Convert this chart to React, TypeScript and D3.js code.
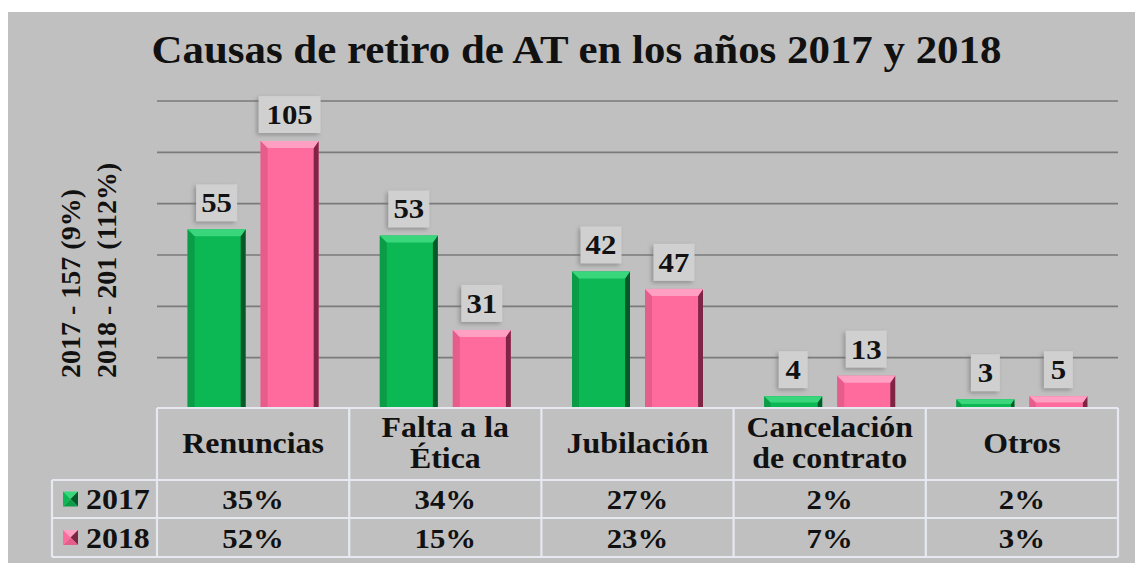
import React from "react";
import * as d3 from "d3";

const categoryLines: string[][] = [
  ["Renuncias"],
  ["Falta a la", "Ética"],
  ["Jubilación"],
  ["Cancelación", "de contrato"],
  ["Otros"],
];
const seriesNames = ["2017", "2018"];
const counts2017 = [55, 53, 42, 4, 3];
const counts2018 = [105, 31, 47, 13, 5];
// bar heights are drawn as share of the year's total (%)
const share2017 = [35.0, 33.8, 26.8, 2.5, 1.9];
const share2018 = [52.2, 15.4, 23.4, 6.5, 2.5];
const pctLabels2017 = ["35%", "34%", "27%", "2%", "2%"];
const pctLabels2018 = ["52%", "15%", "23%", "7%", "3%"];
const yTicks = [10, 20, 30, 40, 50, 60];
const title = "Causas de retiro de AT en los años 2017 y 2018";
const yLabelLines = ["2017 - 157 (9%)", "2018 - 201 (112%)"];

const W = 1135;
const H = 563;
const FONT = "'Liberation Serif', 'Times New Roman', serif";

const palettes = [
  { base: "#0bb854", top: "#3ad67c", right: "#04592a", left: "#0a9c47" },
  { base: "#ff6b9c", top: "#ff9fc2", right: "#7e2444", left: "#e65c8b" },
];

const labelBoxWidths = [29, 41, 62];

function Bar({ x, y, w, h, p }: any) {
  const b = Math.min(7, h / 2);
  const x1 = x + w;
  const yb = y + h;
  return (
    <g>
      <rect x={x} y={y} width={w} height={h} fill={p.base} />
      <polygon points={`${x},${y} ${x + b},${y + b} ${x + b},${yb} ${x},${yb}`} fill={p.left} />
      <polygon points={`${x1},${y} ${x1},${yb} ${x1 - b * 0.7},${yb} ${x1 - b * 0.7},${y + b}`} fill={p.right} />
      <polygon points={`${x},${y} ${x1},${y} ${x1 - b * 0.7},${y + b} ${x + b},${y + b}`} fill={p.top} />
    </g>
  );
}

function Marker({ x, y, s, p }: any) {
  const cx = x + s / 2;
  const cy = y + s / 2;
  return (
    <g>
      <polygon points={`${x},${y} ${x + s},${y} ${cx},${cy}`} fill={p.top} />
      <polygon points={`${x + s},${y} ${x + s},${y + s} ${cx},${cy}`} fill={p.right} />
      <polygon points={`${x},${y + s} ${x + s},${y + s} ${cx},${cy}`} fill={p.left} />
      <polygon points={`${x},${y} ${x},${y + s} ${cx},${cy}`} fill={p.base} />
    </g>
  );
}

export default function App() {
  const tableLeft = 157;
  const tableRight = 1118;
  const legendLeft = 52;
  const headerTop = 408;
  const row1Top = 480;
  const row2Top = 518;
  const tableBottom = 557;

  const x0 = d3
    .scaleBand<number>()
    .domain(d3.range(categoryLines.length))
    .range([tableLeft, tableRight]);
  const bw = x0.bandwidth();
  const y = d3.scaleLinear().domain([0, 60]).range([409, 101]);

  const shares = [share2017, share2018];
  const counts = [counts2017, counts2018];
  const pctLabels = [pctLabels2017, pctLabels2018];

  const textStyle = { fontFamily: FONT, fontWeight: "bold" as const, fill: "#111" };
  const sx = 1.1;
  const stroke = "#e6e9f0";

  return (
    <svg width={W} height={H} style={{ position: "absolute", left: 0, top: 0, background: "#fff" }}>
      <defs>
        <filter id="lblShadow" x="-30%" y="-30%" width="160%" height="160%">
          <feDropShadow dx={-2} dy={2} stdDeviation={2} floodColor="#6a6a6a" floodOpacity={0.55} />
        </filter>
      </defs>
      <rect x={8} y={12} width={W - 8} height={H - 12} fill="#c0c0c0" />

      {/* title */}
      <text
        transform={`translate(${(153 + 1000) / 2},63) scale(1.1,1)`}
        textAnchor="middle"
        fontSize={39}
        {...textStyle}
      >
        {title}
      </text>

      {/* y label */}
      {yLabelLines.map((t, i) => (
        <text
          key={t}
          transform={`translate(${80 + i * 36},378) rotate(-90)`}
          textAnchor="start"
          fontSize={28}
          {...textStyle}
        >
          {t}
        </text>
      ))}

      {/* gridlines */}
      {yTicks.map((t) => (
        <line key={t} x1={tableLeft} x2={tableRight} y1={y(t)} y2={y(t)} stroke="#7a7a7a" strokeWidth={1.6} />
      ))}

      {/* bars */}
      {categoryLines.map((_, ci) => {
        const cx = (x0(ci) as number) + bw / 2;
        const x1 = d3
          .scaleBand<string>()
          .domain(seriesNames)
          .range([cx - 65.5, cx + 65.5])
          .paddingInner(0.2055);
        return seriesNames.map((s, si) => {
          const v = shares[si][ci];
          const bx = x1(s) as number;
          const w = x1.bandwidth();
          const top = y(v);
          const h = y(0) - top;
          const label = String(counts[si][ci]);
          const lw = labelBoxWidths[label.length - 1];
          const lh = 37;
          const ly = top - 8 - lh;
          const lcx = bx + w / 2;
          return (
            <g key={`${ci}-${si}`}>
              <Bar x={bx} y={top} w={w} h={h} p={palettes[si]} />
              <rect x={lcx - lw / 2} y={ly} width={lw} height={lh} fill="#d0d0d0" filter="url(#lblShadow)" />
              <text
                transform={`translate(${lcx},${ly + lh - 9}) scale(${sx},1)`}
                textAnchor="middle"
                fontSize={28}
                {...textStyle}
              >
                {label}
              </text>
            </g>
          );
        });
      })}

      {/* table background to cover bar bottoms */}
      <rect x={tableLeft} y={headerTop} width={tableRight - tableLeft} height={tableBottom - headerTop} fill="#c0c0c0" />
      <rect x={legendLeft} y={row1Top} width={tableLeft - legendLeft} height={tableBottom - row1Top} fill="#c0c0c0" />

      {/* table lines */}
      <g stroke={stroke} strokeWidth={2.2}>
        <line x1={tableLeft} x2={tableRight} y1={headerTop} y2={headerTop} />
        <line x1={legendLeft} x2={tableRight} y1={row1Top} y2={row1Top} />
        <line x1={legendLeft} x2={tableRight} y1={row2Top} y2={row2Top} />
        <line x1={legendLeft} x2={tableRight} y1={tableBottom} y2={tableBottom} />
        <line x1={legendLeft} x2={legendLeft} y1={row1Top} y2={tableBottom} />
        {categoryLines.map((_, ci) => (
          <line key={ci} x1={x0(ci)} x2={x0(ci)} y1={headerTop} y2={tableBottom} />
        ))}
        <line x1={tableRight} x2={tableRight} y1={headerTop} y2={tableBottom} />
      </g>

      {/* headers */}
      {categoryLines.map((lines, ci) => {
        const cx = (x0(ci) as number) + bw / 2;
        const baselines = lines.length === 1 ? [453] : [437, 468];
        return lines.map((ln, li) => (
          <text
            key={`${ci}-${li}`}
            transform={`translate(${cx},${baselines[li]}) scale(${sx},1)`}
            textAnchor="middle"
            fontSize={29}
            {...textStyle}
          >
            {ln}
          </text>
        ));
      })}

      {/* rows */}
      {seriesNames.map((s, si) => {
        const top = si === 0 ? row1Top : row2Top;
        const bottom = si === 0 ? row2Top : tableBottom;
        const mid = (top + bottom) / 2;
        return (
          <g key={s}>
            <Marker x={63} y={mid - 7.5} s={15} p={palettes[si]} />
            <text
              transform={`translate(86,${mid + 10}) scale(${sx},1)`}
              textAnchor="start"
              fontSize={29}
              {...textStyle}
            >
              {s}
            </text>
            {pctLabels[si].map((t, ci) => (
              <text
                key={ci}
                transform={`translate(${(x0(ci) as number) + bw / 2},${mid + 10}) scale(${sx},1)`}
                textAnchor="middle"
                fontSize={28}
                {...textStyle}
              >
                {t}
              </text>
            ))}
          </g>
        );
      })}
    </svg>
  );
}
